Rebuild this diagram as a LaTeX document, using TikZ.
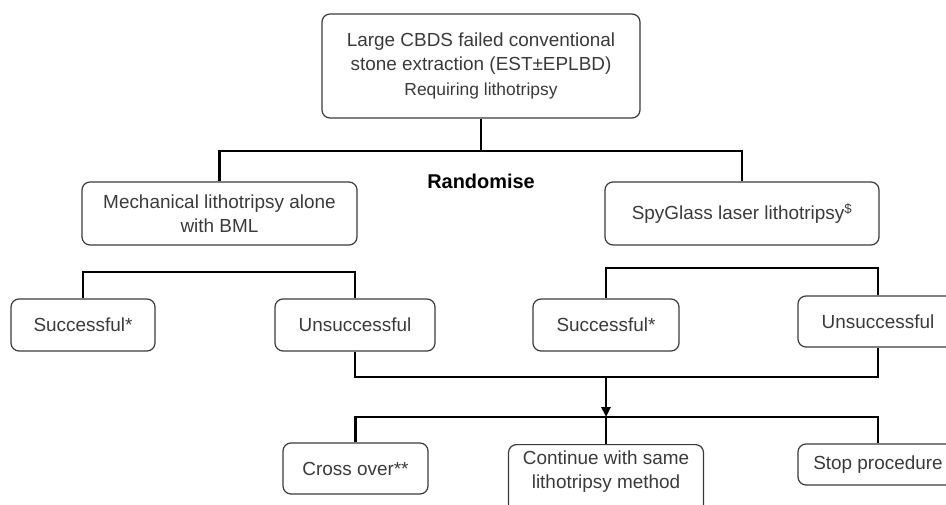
\documentclass[tikz,border=0pt]{standalone}
\usepackage{fontspec}
\setmainfont{Liberation Sans}
\usetikzlibrary{arrows.meta}
\definecolor{inkgray}{HTML}{3A3A3A}
\begin{document}
\begin{tikzpicture}[x=1bp, y=-1bp, every node/.style = {text=inkgray, font=\fontsize{19}{24}\selectfont},
    box/.style = {draw=inkgray, line width=1.2bp, rounded corners=8bp, align=center, inner sep=0pt},
    link/.style = {line width=2.4bp, black}]
  \useasboundingbox (0,0) rectangle (946,505);
  \node[box, minimum width=318bp, minimum height=104bp] (top) at (481,66)
    {Large CBDS failed conventional\\stone extraction (EST±EPLBD)\\[2bp]{\fontsize{17.5}{22}\selectfont Requiring lithotripsy}};
  \node[font=\fontsize{20}{24}\selectfont\bfseries, text=black] (rand) at (481,181) {Randomise};
  \node[box, minimum width=275bp, minimum height=63bp] (mech) at (219.5,213.5) {Mechanical lithotripsy alone\\with BML};
  \node[box, minimum width=274bp, minimum height=63bp] (spy) at (742,213.5) {SpyGlass laser lithotripsy\textsuperscript{\$}};
  \node[box, minimum width=144bp, minimum height=52bp] (succL) at (83,325) {Successful*};
  \node[box, minimum width=160bp, minimum height=52bp] (unsL) at (355,325) {Unsuccessful};
  \node[box, minimum width=146bp, minimum height=52bp] (succR) at (606,325) {Successful*};
  \node[box, minimum width=160bp, minimum height=51bp] (unsR) at (878,321.5) {Unsuccessful};
  \node[box, minimum width=145bp, minimum height=51bp] (cross) at (355.5,468.5) {Cross over**};
  \node[box, minimum width=195bp, inner ysep=6bp, anchor=north] (cont) at (606,444)
    {Continue with same\\lithotripsy method\rule[-24bp]{0pt}{24bp}};
  \node[box, minimum width=160bp, minimum height=41bp] (stop) at (878,464.5) {Stop procedure};
  \coordinate (rsplit) at (481,151);
  \coordinate (splitL) at (219,272);
  \coordinate (splitR) at (742,268);
  \coordinate (merge) at (606,377);
  \coordinate (fan) at (606,417);
  \draw[link] (top) -- (rsplit);
  \draw[link] (mech.north) |- (rsplit) -| (spy.north);
  \draw[link] (succL.north) |- (splitL) -| (unsL.north);
  \draw[link] (succR.north) |- (splitR) -| (unsR.north);
  \draw[link] (unsL.south) |- (merge) -| (unsR.south);
  \draw[link, -{Triangle[length=10bp, width=9bp]}] (merge) -- (fan);
  \draw[link] (cross.north) |- (fan) -| (stop.north);
  \draw[link] (fan) -- (cont.north);
\end{tikzpicture}
\end{document}
